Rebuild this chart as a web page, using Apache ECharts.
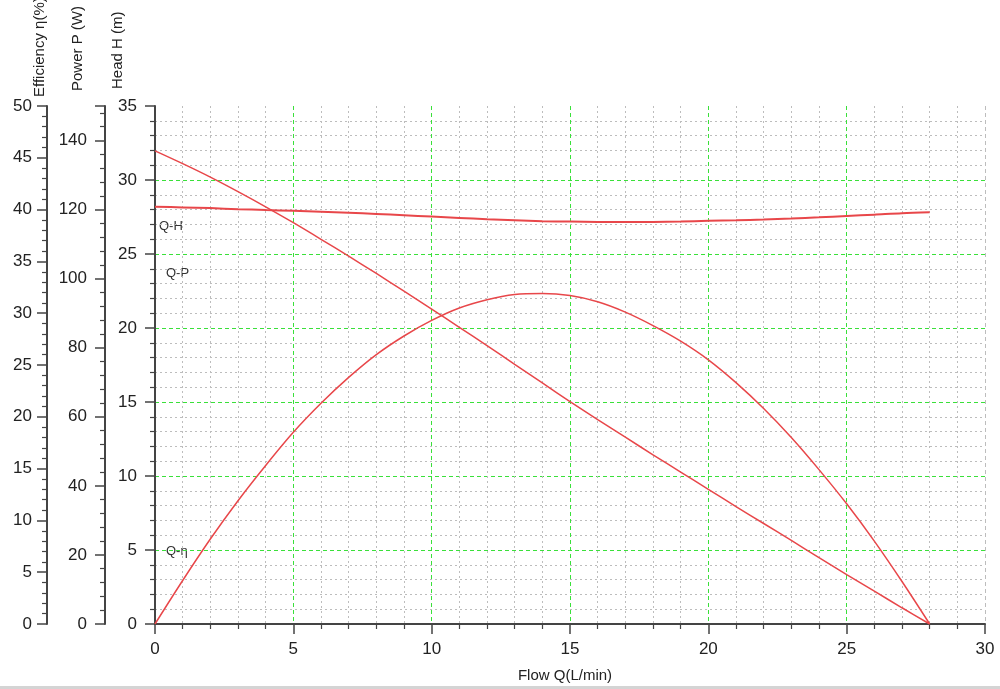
<!DOCTYPE html>
<html>
<head>
<meta charset="utf-8">
<script src="https://cdn.jsdelivr.net/npm/echarts@6/dist/echarts.min.js"></script>
<style>
html,body{margin:0;padding:0;background:#fff;}
#chart{width:1000px;height:689px;}
</style>
</head>
<body>
<div id="chart"></div>
<script>
// flow Q (L/min)
var flowQ = [0,1,2,3,4,5,6,7,8,9,10,11,12,13,14,15,16,17,18,19,20,21,22,23,24,25,26,27,28];
// head H (m)
var headH = [28.2,28.15,28.1,28.03,27.97,27.92,27.86,27.79,27.71,27.62,27.53,27.44,27.35,27.28,27.22,27.19,27.17,27.16,27.17,27.2,27.24,27.28,27.33,27.4,27.48,27.57,27.66,27.76,27.82];
// power P (W)
var powerP = [137,133.3,129.4,125.2,120.8,116.2,111.4,106.5,101.5,96.4,91.2,85.9,80.6,75.2,69.8,64.4,59.2,54.1,49.0,44.0,39.0,34.0,29.1,24.2,19.2,14.3,9.5,4.7,0];
// efficiency eta (%)
var effEta = [0,4.2,8.2,11.9,15.3,18.5,21.3,23.8,26.0,27.8,29.3,30.5,31.3,31.8,31.9,31.7,31.1,30.1,28.8,27.3,25.5,23.3,20.8,18.0,14.9,11.6,8.0,4.1,0];

var curveNames = ['Q-H','Q-P','Q-η'];
var axisNames = ['Efficiency η(%)','Power P (W)','Head H (m)'];

function pairs(ys){
    var out = [];
    for(var i=0;i<flowQ.length;i++){
        out.push([flowQ[i], ys[i]]);
    }
    return out;
}

var font = 'Arial, "Liberation Sans", sans-serif';
var red = '#e8474a';
var green = '#3ae03a';
var grey = '#bdbdbd';

function yAx(max, interval, offset, margin, colors){
    return {
        type: 'value',
        position: 'left',
        offset: offset,
        min: 0,
        max: max,
        interval: interval,
        axisLine: {show: true, lineStyle: {color: '#444', width: 2}},
        axisTick: {show: true, length: 10, lineStyle: {color: '#444', width: 1.5}},
        minorTick: {show: true, splitNumber: 5, length: 5, lineStyle: {color: '#444', width: 1.2}},
        axisLabel: {
            color: '#222', fontSize: 17, fontFamily: font, margin: margin,
            formatter: function(v){ return v % interval === 0 ? String(v) : ''; }
        },
        splitLine: colors ? {show: true, lineStyle: {color: colors, type: [4,3], width: 1}} : {show: false},
        minorSplitLine: colors ? {show: true, lineStyle: {color: grey, type: [2,3], width: 1}} : {show: false}
    };
}

var chart = echarts.init(document.getElementById('chart'));
var option = {
    backgroundColor: '#fff',
    animation: false,
    grid: {left: 155, right: 15, top: 106, bottom: 65, containLabel: false},
    xAxis: {
        type: 'value',
        min: 0,
        max: 30,
        interval: 5,
        name: 'Flow Q(L/min)',
        nameLocation: 'middle',
        nameGap: 44,
        nameTextStyle: {color: '#222', fontSize: 15, fontFamily: font, padding: [0,10,0,0]},
        axisLine: {show: true, onZero: false, lineStyle: {color: '#444', width: 2}},
        axisTick: {show: true, length: 10, lineStyle: {color: '#444', width: 1.5}},
        minorTick: {show: true, splitNumber: 5, length: 5, lineStyle: {color: '#444', width: 1.2}},
        axisLabel: {color: '#222', fontSize: 17, fontFamily: font, margin: 17},
        splitLine: {show: true, lineStyle: {color: ['transparent',green,green,green,green,green,grey], type: [4,3], width: 1}},
        minorSplitLine: {show: true, lineStyle: {color: grey, type: [2,3], width: 1}}
    },
    yAxis: [
        yAx(35, 5, 0, 18, ['transparent',green,green,green,green,green,green,'transparent']),
        yAx(150, 20, 50, 18, null),
        yAx(50, 5, 108, 15, null)
    ],
    graphic: [
        {type: 'text', x: 40, y: 97, rotation: Math.PI/2, style: {text: axisNames[0], fill: '#222', font: '15px ' + font, align: 'left', verticalAlign: 'middle'}},
        {type: 'text', x: 78, y: 91, rotation: Math.PI/2, style: {text: axisNames[1], fill: '#222', font: '15px ' + font, align: 'left', verticalAlign: 'middle'}},
        {type: 'text', x: 118, y: 89, rotation: Math.PI/2, style: {text: axisNames[2], fill: '#222', font: '15px ' + font, align: 'left', verticalAlign: 'middle'}},
        {type: 'text', x: 159, y: 226, style: {text: curveNames[0], fill: '#333', font: '13px ' + font, verticalAlign: 'middle'}},
        {type: 'text', x: 166, y: 273, style: {text: curveNames[1], fill: '#333', font: '13px ' + font, verticalAlign: 'middle'}},
        {type: 'text', x: 166, y: 551, style: {text: curveNames[2], fill: '#333', font: '13px ' + font, verticalAlign: 'middle'}},
        {type: 'rect', shape: {x: 0, y: 686, width: 1000, height: 3}, style: {fill: '#d4d4d4'}}
    ],
    series: [
        {
            name: curveNames[0], type: 'line', yAxisIndex: 0, data: pairs(headH),
            smooth: 0.3, showSymbol: false, lineStyle: {color: red, width: 2}
        },
        {
            name: curveNames[1], type: 'line', yAxisIndex: 1, data: pairs(powerP),
            smooth: 0.3, showSymbol: false, lineStyle: {color: red, width: 1.5}
        },
        {
            name: curveNames[2], type: 'line', yAxisIndex: 2, data: pairs(effEta),
            smooth: 0.3, showSymbol: false, lineStyle: {color: red, width: 1.5}
        }
    ]
};
chart.setOption(option);
</script>
</body>
</html>
